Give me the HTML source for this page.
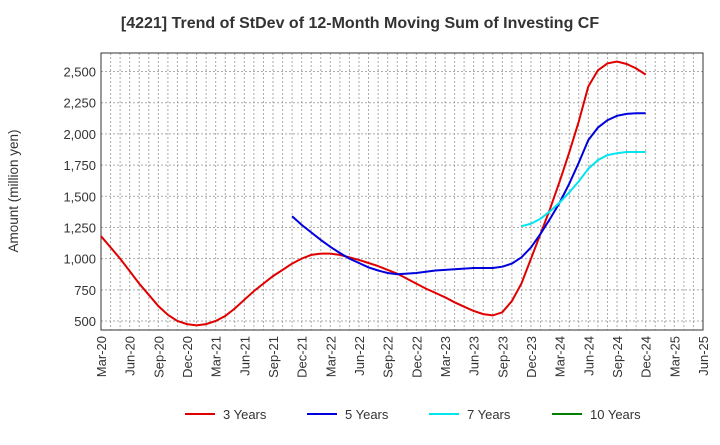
<!DOCTYPE html>
<html><head><meta charset="utf-8"><style>
body{margin:0;background:#fff;font-family:"Liberation Sans",sans-serif;}
svg text{font-family:"Liberation Sans",sans-serif;}
</style></head><body>
<svg id="c" width="720" height="440" xmlns="http://www.w3.org/2000/svg">
<text x="360" y="28" text-anchor="middle" font-size="16" font-weight="bold" fill="#333">[4221]  Trend of StDev of 12-Month Moving Sum of Investing CF</text>
<text transform="translate(18,191) rotate(-90)" text-anchor="middle" font-size="13.5" fill="#333">Amount (million yen)</text>
<g id="grid"></g><g id="axes"></g><g id="series"></g><g id="legend"></g>
</svg>
<script>
const xLabels=["Mar-20","Jun-20","Sep-20","Dec-20","Mar-21","Jun-21","Sep-21","Dec-21","Mar-22","Jun-22","Sep-22","Dec-22","Mar-23","Jun-23","Sep-23","Dec-23","Mar-24","Jun-24","Sep-24","Dec-24","Mar-25","Jun-25"];
const yTicks=[500,750,1000,1250,1500,1750,2000,2250,2500];
const s3=[1180,1090,1000,900,800,710,620,550,500,475,465,475,500,540,600,670,740,800,860,910,960,1000,1030,1040,1040,1030,1010,990,965,940,910,880,840,800,760,725,690,650,615,580,555,545,570,660,800,1000,1200,1400,1620,1850,2100,2380,2510,2565,2580,2560,2525,2475];
const s5Start=20;
const s5=[1340,1270,1210,1150,1095,1045,1000,965,930,905,885,875,880,885,895,905,910,915,920,925,925,925,935,960,1010,1090,1200,1320,1450,1600,1770,1950,2050,2110,2145,2160,2165,2165];
const s7Start=44;
const s7=[1260,1280,1320,1380,1450,1530,1620,1720,1790,1830,1845,1855,1855,1855];
const s10=[];
const L=101,R=703,T=53,B=330,months=63;
const xs=m=>L+m*(R-L)/months;
const ys=v=>321-(v-500)*(321-71.5)/2000;
const NS="http://www.w3.org/2000/svg";
function mk(t,a,p){const e=document.createElementNS(NS,t);for(const k in a)e.setAttribute(k,a[k]);p.appendChild(e);return e;}
const g=document.getElementById('grid'),ax=document.getElementById('axes'),sg=document.getElementById('series'),lg=document.getElementById('legend');
for(let m=1;m<months;m++){const e=mk('line',{x1:xs(m),x2:xs(m),y1:T,y2:B,stroke:'#aaa','stroke-dasharray':'2,2','stroke-width':1},g);

}
yTicks.forEach(v=>{const e=mk('line',{x1:L,x2:R,y1:ys(v),y2:ys(v),stroke:'#aaa','stroke-dasharray':'2,2'},g);


const t=mk('text',{x:L-5,y:ys(v)+5,'text-anchor':'end','font-size':13,fill:'#333'},ax);t.textContent=v.toLocaleString('en-US');

});
const fr=mk('rect',{x:L,y:T,width:R-L,height:B-T,fill:'none',stroke:'#333'},ax);


xLabels.forEach((s,i)=>{const x=xs(i*3);const t=mk('text',{transform:`translate(${x+5},${B+6}) rotate(-90)`,'text-anchor':'end','font-size':13,fill:'#333'},ax);t.textContent=s;

});
function line(data,start,color,name){if(!data.length)return;const d=data.map((v,i)=>(i?'L':'M')+xs(start+i).toFixed(1)+','+ys(v).toFixed(1)).join('');
const p=mk('path',{d:d,fill:'none',stroke:color,'stroke-width':2},sg);

}
line(s3,0,'#e00000','series-3-years');
line(s5,s5Start,'#0000dd','series-5-years');
line(s7,s7Start,'#00e5ee','series-7-years');
line(s10,0,'#008000','series-10-years');
const leg=[['3 Years','#e00000',185],['5 Years','#0000dd',307],['7 Years','#00e5ee',429],['10 Years','#008000',552]];
leg.forEach(([n,c,x])=>{const gg=mk('g',{},lg);


mk('line',{x1:x,x2:x+30,y1:414,y2:414,stroke:c,'stroke-width':2},gg);
const t=mk('text',{x:x+38,y:419,'font-size':13,fill:'#333'},gg);t.textContent=n;});
</script>
</body></html>
